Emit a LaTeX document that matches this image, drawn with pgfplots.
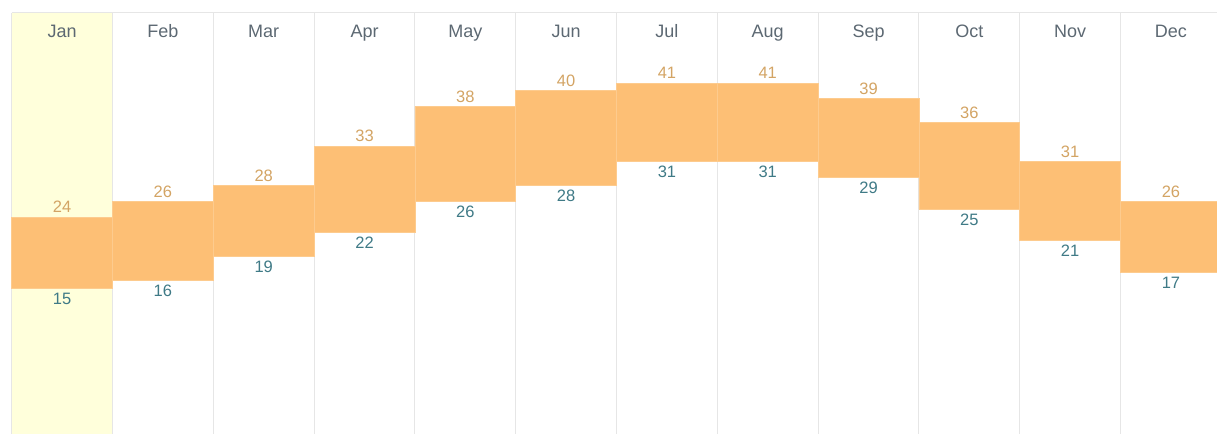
\documentclass[border=0pt]{standalone}
\usepackage{pgfplots}
\pgfplotsset{compat=1.18}
\usepackage{pgfplotstable}
\usepackage{fontspec}
\setmainfont{Liberation Sans}
\definecolor{barcol}{HTML}{FDBF75}
\definecolor{baredge}{HTML}{FDCB8E}
\definecolor{hilite}{HTML}{FFFFDB}
\definecolor{gridc}{HTML}{E6E6E6}
\definecolor{hicol}{HTML}{D3A464}
\definecolor{locol}{HTML}{3F7A86}
\definecolor{moncol}{HTML}{5C6872}

\pgfplotstableread{
x low diff high mon
0 15 9 24 Jan
1 16 10 26 Feb
2 19 9 28 Mar
3 22 11 33 Apr
4 26 12 38 May
5 28 12 40 Jun
6 31 10 41 Jul
7 31 10 41 Aug
8 29 10 39 Sep
9 25 11 36 Oct
10 21 10 31 Nov
11 17 9 26 Dec
}\temps

\pgfplotsset{
  common/.style={
    scale only axis,
    width=1205.3pt, height=421.3pt,
    xmin=-0.5, xmax=11.457,
    ymin=-3.53, ymax=49.92,
    axis line style={draw=none},
    ticks=none,
    clip=false,
  }
}

\begin{document}
\begin{tikzpicture}
\useasboundingbox (-11.7pt,0) rectangle (1205.3pt,434pt);
\begin{axis}[common]
\fill[hilite] (axis cs:-0.5,-3.53) rectangle (axis cs:0.5,49.92);
\end{axis}
\begin{axis}[common,
  ybar stacked, bar width=1,
  extra x ticks={-0.5,0.5,1.5,2.5,3.5,4.5,5.5,6.5,7.5,8.5,9.5,10.5},
  extra x tick labels={},
  extra x tick style={grid=major, major grid style={gridc, line width=1pt}},
]
\addplot[draw=none, fill=none] table[x=x, y=low] {\temps};
\addplot[fill=barcol, draw=baredge, line width=0.8pt] table[x=x, y=diff] {\temps};
\draw[gridc, line width=1pt] (rel axis cs:0,1) -- (rel axis cs:1,1);
\end{axis}
\begin{axis}[common]
\addplot[draw=none, mark=none, nodes near coords, point meta=explicit symbolic,
  nodes near coords style={anchor=base, yshift=4.1pt, inner sep=0pt, text=hicol, font=\fontsize{16.5}{19}\selectfont}]
  table[x=x, y=high, meta=high] {\temps};
\addplot[draw=none, mark=none, nodes near coords, point meta=explicit symbolic,
  nodes near coords style={anchor=base, yshift=-16.1pt, inner sep=0pt, text=locol, font=\fontsize{16.5}{19}\selectfont}]
  table[x=x, y=low, meta=low] {\temps};
\addplot[draw=none, mark=none, nodes near coords, point meta=explicit symbolic,
  nodes near coords style={anchor=base, yshift=-6.45pt, inner sep=0pt, text=moncol, font=\fontsize{18}{21}\selectfont}]
  table[x=x, y expr=47.54, meta=mon] {\temps};
\end{axis}
\end{tikzpicture}
\end{document}
